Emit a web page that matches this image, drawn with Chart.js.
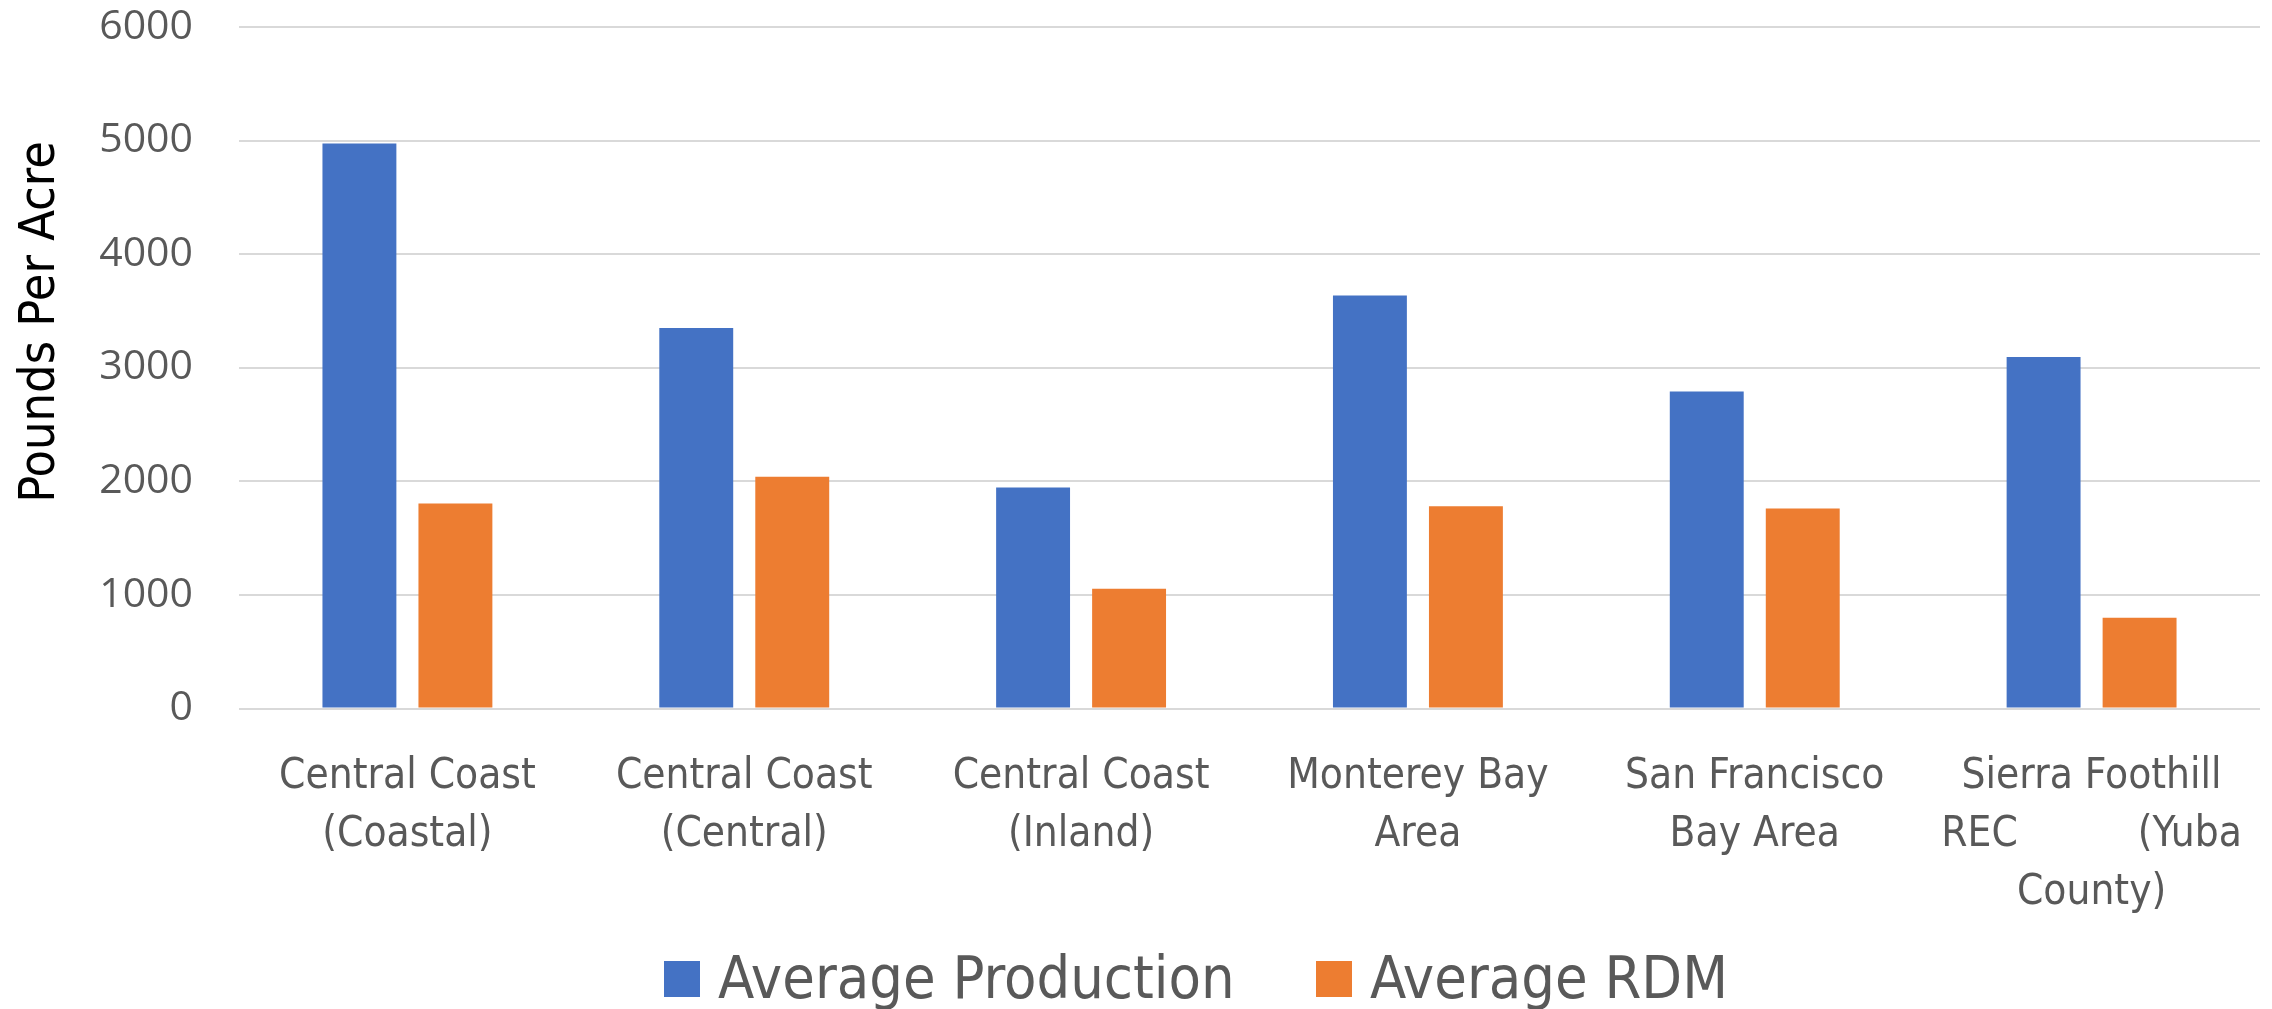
<!DOCTYPE html>
<html>
<head>
<meta charset="utf-8">
<title>Pounds Per Acre by Region</title>
<script src="https://cdn.jsdelivr.net/npm/chart.js@4.4.1/dist/chart.umd.min.js"></script>
<style>
  html, body { margin: 0; padding: 0; background: #ffffff; }
  canvas { display: block; }
</style>
</head>
<body>
<canvas id="chart" width="2272" height="1009"></canvas>
<script>
// Region names, split into the lines shown under each group of bars
const NB = '\u00a0';
const regions = [
  ['Central Coast', '(Coastal)'],
  ['Central Coast', '(Central)'],
  ['Central Coast', '(Inland)'],
  ['Monterey Bay', 'Area'],
  ['San Francisco', 'Bay Area'],
  ['Sierra Foothill', 'REC' + NB.repeat(10) + '(Yuba', 'County)']
];

// Pounds per acre for each region
const averageProduction = [4975, 3350, 1945, 3635, 2790, 3095];
const averageRDM = [1805, 2040, 1055, 1780, 1760, 800];

// Value axis
const yMin = 0;
const yMax = 6000;
const yStep = 1000;

const seriesNames = ['Average Production', 'Average RDM'];
const seriesColors = ['#4472C4', '#ED7D31'];

const GREY_TEXT = '#595959';
const NARROW = "'Liberation Sans Narrow', 'DejaVu Sans Condensed', 'Liberation Sans', sans-serif";

// Rotated axis title and the legend row under the chart
const annotations = {
  id: 'annotations',
  afterDraw(chart) {
    const ctx = chart.ctx;
    ctx.save();

    // axis title
    ctx.fillStyle = '#000000';
    ctx.font = '50px ' + NARROW;
    ctx.textAlign = 'center';
    ctx.textBaseline = 'alphabetic';
    ctx.translate(54, 322);
    ctx.rotate(-Math.PI / 2);
    ctx.fillText('Pounds Per Acre', 0, 0);
    ctx.setTransform(1, 0, 0, 1, 0, 0);

    // legend
    const itemX = [664, 1316];
    ctx.font = '59px ' + NARROW;
    ctx.textAlign = 'left';
    chart.data.datasets.forEach((ds, i) => {
      const x = itemX[i];
      ctx.fillStyle = ds.backgroundColor;
      ctx.fillRect(x, 961, 36, 36);
      ctx.fillStyle = GREY_TEXT;
      ctx.fillText(ds.label, x + 54, 998);
    });
    ctx.restore();
  }
};

new Chart(document.getElementById('chart'), {
  type: 'bar',
  data: {
    labels: regions,
    datasets: [
      {
        label: seriesNames[0],
        data: averageProduction,
        backgroundColor: seriesColors[0],
        categoryPercentage: 0.57,
        barPercentage: 0.77
      },
      {
        label: seriesNames[1],
        data: averageRDM,
        backgroundColor: seriesColors[1],
        categoryPercentage: 0.57,
        barPercentage: 0.77
      }
    ]
  },
  options: {
    responsive: false,
    animation: false,
    devicePixelRatio: 1,
    layout: { padding: { top: 27, right: 12, bottom: 0, left: 0 } },
    plugins: {
      legend: { display: false },
      tooltip: { enabled: false }
    },
    scales: {
      x: {
        grid: { display: false },
        border: { display: false },
        ticks: {
          color: GREY_TEXT,
          font: { family: NARROW, size: 42, lineHeight: 1.38 },
          padding: 32,
          autoSkip: false,
          maxRotation: 0,
          minRotation: 0
        },
        afterFit(scale) {
          scale.height = 300.5;
          scale.paddingLeft = 0;
          scale.paddingRight = 0;
        }
      },
      y: {
        min: yMin,
        max: yMax,
        grid: { color: '#d9d9d9', lineWidth: 2, drawTicks: false },
        border: { display: false },
        ticks: {
          stepSize: yStep,
          color: GREY_TEXT,
          font: { family: "'Open Sans', 'DejaVu Sans', sans-serif", size: 41 },
          padding: 46,
          callback: (value) => String(value)
        },
        afterFit(scale) {
          scale.width = 239;
          scale.paddingTop = 0;
          scale.paddingBottom = 0;
        }
      }
    }
  },
  plugins: [annotations]
});
</script>
</body>
</html>
